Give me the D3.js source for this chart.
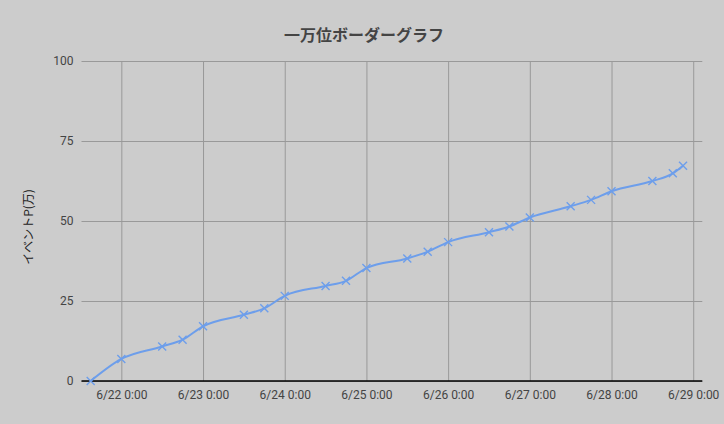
<!DOCTYPE html>
<html><head><meta charset="utf-8">
<script src="https://cdn.jsdelivr.net/npm/d3@7"></script>
<style>
html,body{margin:0;padding:0;background:#cccccc;}
svg{display:block;}
</style></head>
<body>
<svg id="c" width="724" height="424"></svg>
<script>
const times = ["2023-06-21T15:00","2023-06-22T00:00","2023-06-22T12:00","2023-06-22T18:00",
"2023-06-23T00:00","2023-06-23T12:00","2023-06-23T18:00","2023-06-24T00:00","2023-06-24T12:00",
"2023-06-24T18:00","2023-06-25T00:00","2023-06-25T12:00","2023-06-25T18:00","2023-06-26T00:00",
"2023-06-26T12:00","2023-06-26T18:00","2023-06-27T00:00","2023-06-27T12:00","2023-06-27T18:00",
"2023-06-28T00:00","2023-06-28T12:00","2023-06-28T18:00","2023-06-28T21:00"];
const values = [0,6.9,10.8,12.9,17.1,20.7,22.7,26.6,29.7,31.3,35.3,38.3,40.4,43.4,46.5,48.3,51.1,54.6,56.6,59.3,62.5,64.9,67.3];
const xTicks = ["2023-06-22T00:00","2023-06-23T00:00","2023-06-24T00:00","2023-06-25T00:00","2023-06-26T00:00","2023-06-27T00:00","2023-06-28T00:00","2023-06-29T00:00"];
const yTicks = [0,25,50,75,100];
const title = "一万位ボーダーグラフ";
const yTitle = "イベントP(万)";

const parse = d3.timeParse("%Y-%m-%dT%H:%M");
const data = times.map((t,i)=>({t:parse(t), v:values[i]}));
const svg = d3.select("#c");
const L=81.5, R=702.3, T=61, B=381;
const x = d3.scaleTime().domain([parse("2023-06-21T12:18"), parse("2023-06-29T02:40")]).range([L,R]);
const y = d3.scaleLinear().domain([0,100]).range([B,T]);
const fmt = d3.timeFormat("%-m/%-d %-H:%M");
const font = "Roboto, 'Noto Sans CJK JP', sans-serif";

// horizontal gridlines
const yAxis = d3.axisLeft(y).tickValues(yTicks).tickSize(-(R-L)).tickPadding(8);
const gy = svg.append("g").attr("transform",`translate(${L},0)`).call(yAxis);
gy.select(".domain").remove();
gy.selectAll(".tick line").attr("stroke","#999").attr("stroke-width",1);
gy.selectAll(".tick text").attr("fill","#444").style("font-family",font).style("font-size","12px");

// vertical gridlines
const xAxis = d3.axisBottom(x).tickValues(xTicks.map(parse)).tickFormat(fmt).tickSize(-(B-T)).tickPadding(9);
const gx = svg.append("g").attr("transform",`translate(0,${B})`).call(xAxis);
gx.select(".domain").remove();
gx.selectAll(".tick line").attr("stroke","#999").attr("stroke-width",1);
gx.selectAll(".tick text").attr("fill","#444").style("font-family",font).style("font-size","12px");

// baseline
svg.append("line").attr("x1",L).attr("x2",R).attr("y1",y(0)).attr("y2",y(0)).attr("stroke","#000").attr("stroke-width",1.5);

// line
const line = d3.line().x(d=>x(d.t)).y(d=>y(d.v)).curve(d3.curveMonotoneX);
svg.append("path").datum(data).attr("d",line).attr("fill","none").attr("stroke","#6d9eeb").attr("stroke-width",2);

// markers
const s=4;
svg.append("g").selectAll("path").data(data).join("path")
 .attr("d",d=>{const cx=x(d.t), cy=y(d.v); return `M${cx-s},${cy-s}L${cx+s},${cy+s}M${cx-s},${cy+s}L${cx+s},${cy-s}`;})
 .attr("stroke","#6d9eeb").attr("stroke-width",1.4).attr("fill","none");

// title
svg.append("text").attr("x",364).attr("y",41).attr("text-anchor","middle")
 .attr("fill","#444").style("font-family","'Noto Sans CJK JP', sans-serif").style("font-size","16px").style("font-weight","bold").text(title);

// y title
svg.append("text").attr("transform","translate(33,227) rotate(-90)").attr("text-anchor","middle")
 .attr("fill","#222").style("font-family","'Noto Sans CJK JP', sans-serif").style("font-size","12px").text(yTitle);
</script>
</body></html>
